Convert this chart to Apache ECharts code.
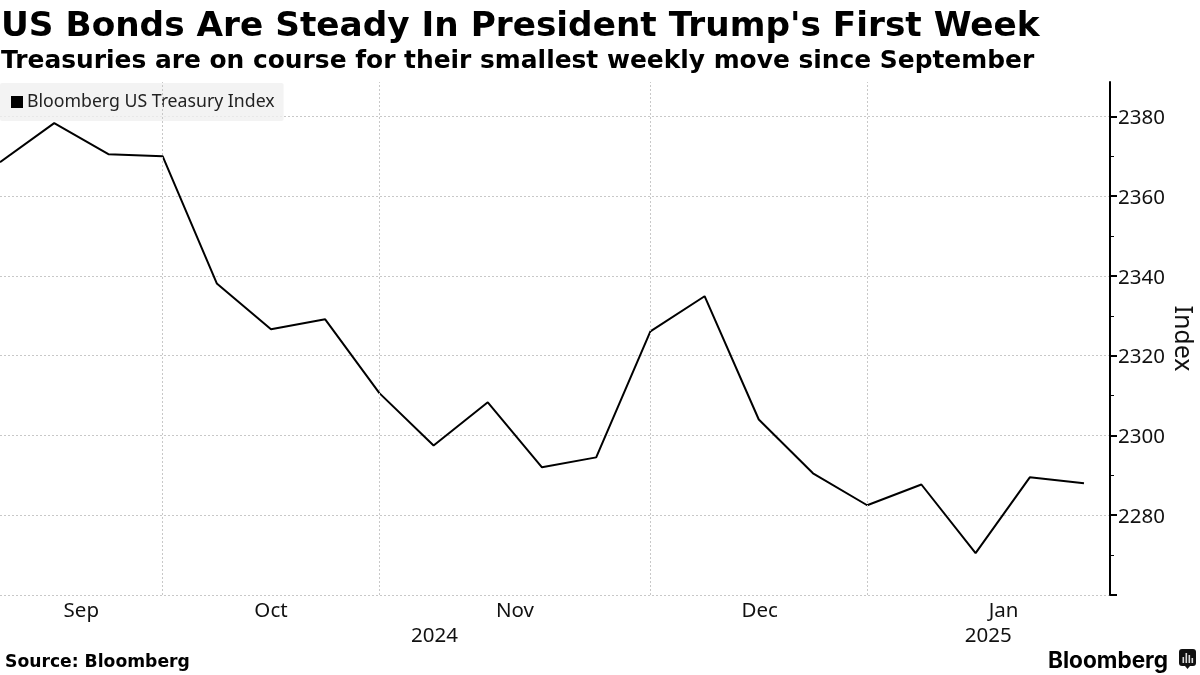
<!DOCTYPE html>
<html><head><meta charset="utf-8">
<style>html,body{margin:0;padding:0;background:#fff}#c{width:1200px;height:675px}</style>
<script src="https://cdn.jsdelivr.net/npm/echarts@6/dist/echarts.min.js"></script></head>
<body><div id="c"></div>
<script>
const titleText = "US Bonds Are Steady In President Trump's First Week";
const subtitleText = "Treasuries are on course for their smallest weekly move since September";
const sourceText = "Source: Bloomberg";
const seriesName = "Bloomberg US Treasury Index";
const weekDates = ['2024-09-06','2024-09-13','2024-09-20','2024-09-27','2024-10-04','2024-10-11','2024-10-18','2024-10-25','2024-11-01','2024-11-08','2024-11-15','2024-11-22','2024-11-29','2024-12-06','2024-12-13','2024-12-20','2024-12-27','2025-01-03','2025-01-10','2025-01-17','2025-01-24'];
const indexValues = [2368.5,2378.3,2370.5,2370,2338.1,2326.6,2329.1,2310.6,2297.5,2308.3,2292,2294.5,2326.1,2334.9,2304,2290.5,2282.5,2287.7,2270.5,2289.5,2288];
const monthBoundaries = ['2024-09-27','2024-10-25','2024-11-29','2024-12-27'];
const monthLabels = [['2024-09-16T12:00','Sep'],['2024-10-11T00:00','Oct'],['2024-11-11T12:00','Nov'],['2024-12-13T03:00','Dec'],['2025-01-13T15:00','Jan']];
const yearLabels = [['2024-11-01T03:00','2024'],['2025-01-11T15:00','2025']];
const yTickValues = [2260,2280,2300,2320,2340,2360,2380];
const yTicks = {min:2260,max:2388.6,interval:20};
const ts = d => Date.parse((d.length>10?d:d+'T00:00')+'Z');
const xMin = ts('2024-09-06'), xMax = ts('2025-01-24') + 3.36*86400000;
const font = '"DejaVu Sans"', labelFont = '"Noto Sans"';
const chart = echarts.init(document.getElementById('c'),null,{renderer:'canvas'});
const monthMap = new Map(monthLabels.map(m=>[ts(m[0]),m[1]]));
const yearMap = new Map(yearLabels.map(m=>[ts(m[0]),m[1]]));
chart.setOption({
  animation:false,
  backgroundColor:'#fff',
  title:[
    {text:titleText,left:1,top:10,padding:0,textStyle:{fontFamily:font,fontWeight:'bold',fontSize:34.3,color:'#000'}},
    {text:subtitleText,left:1,top:49,padding:0,textStyle:{fontFamily:font,fontWeight:'bold',fontSize:24.9,color:'#000'}},
    {text:sourceText,left:5,top:654,padding:0,textStyle:{fontFamily:font,fontWeight:'bold',fontSize:17.2,color:'#000'}},
    {text:'Bloomberg',left:1048,top:650,padding:0,textStyle:{fontFamily:'Inter',fontWeight:700,fontSize:22.6,color:'#000'}}
  ],
  legend:{left:0,top:83,padding:[10,9,10,11],itemGap:0,itemWidth:12,itemHeight:12,icon:'rect',backgroundColor:'rgba(240,240,240,0.8)',borderRadius:2,
    textStyle:{fontFamily:labelFont,fontSize:17.7,color:'#222',padding:[0,0,0,-1]},data:[seriesName]},
  grid:{left:0,right:90,top:82,bottom:80,containLabel:false,outerBoundsMode:'none'},
  xAxis:[
    {type:'value',min:xMin,max:xMax,axisLine:{show:false},axisTick:{show:false},splitLine:{show:false},
     axisLabel:{show:true,customValues:monthLabels.map(m=>ts(m[0])),formatter:v=>monthMap.get(+v)||'',fontFamily:labelFont,fontSize:20.5,color:'#111',margin:6,hideOverlap:false}},
    {type:'value',position:'bottom',offset:25,min:xMin,max:xMax,axisLine:{show:false},axisTick:{show:false},splitLine:{show:false},
     axisLabel:{show:true,customValues:yearLabels.map(m=>ts(m[0])),formatter:v=>yearMap.get(+v)||'',fontFamily:labelFont,fontSize:20.5,color:'#111',margin:6,hideOverlap:false}}
  ],
  yAxis:[
   {type:'value',position:'right',min:yTicks.min,max:yTicks.max,interval:yTicks.interval,
    name:'Index',nameLocation:'middle',nameRotate:-90,nameGap:60,nameMoveOverlap:false,nameTextStyle:{fontFamily:labelFont,fontSize:25,color:'#111'},
    axisLine:{show:true,onZero:false,lineStyle:{color:'#000',width:2}},
    axisTick:{show:false},
    minorTick:{show:true,splitNumber:2,length:4,lineStyle:{color:'#000',width:1}},
    axisLabel:{margin:8,showMaxLabel:false,formatter:v=>(v===2260||v>2380)?'':'{t|'+v+'}',
      rich:{t:{fontFamily:labelFont,fontSize:20.5,color:'#111',padding:[4,0,0,0]}}},
    splitLine:{show:true,showMaxLine:false,lineStyle:{color:'#c8c8c8',type:[2,2],width:1}}
   },
   {type:'value',position:'right',min:yTicks.min,max:yTicks.max,interval:yTicks.interval,
    axisLine:{show:false,onZero:false},axisLabel:{show:false},splitLine:{show:false},minorTick:{show:false},
    axisTick:{show:true,inside:false,length:7,customValues:yTickValues,lineStyle:{color:'#000',width:2}}
   }
  ],
  series:[{name:seriesName,type:'line',symbol:'none',smooth:false,lineStyle:{color:'#000',width:2},itemStyle:{color:'#000'},
    data:weekDates.map((d,i)=>[ts(d),indexValues[i]]),
    markLine:{silent:true,symbol:'none',label:{show:false},animation:false,lineStyle:{color:'#c8c8c8',type:[2,2],width:1},data:monthBoundaries.map(d=>({xAxis:ts(d)}))}
  }],
  graphic:[
    {type:'group',left:1179,top:649,children:[
      {type:'rect',shape:{x:0,y:0,width:17,height:17,r:3},style:{fill:'#111'}},
      {type:'polygon',shape:{points:[[6,17],[11,17],[8.5,20]]},style:{fill:'#111'}},
      {type:'rect',shape:{x:3.5,y:8,width:1.6,height:6},style:{fill:'#ddd'}},
      {type:'rect',shape:{x:6.5,y:4,width:1.6,height:10},style:{fill:'#ddd'}},
      {type:'rect',shape:{x:9.5,y:6,width:1.6,height:8},style:{fill:'#ddd'}},
      {type:'rect',shape:{x:12.5,y:9,width:1.6,height:5},style:{fill:'#ddd'}}
    ]}
  ]
});
</script></body></html>
